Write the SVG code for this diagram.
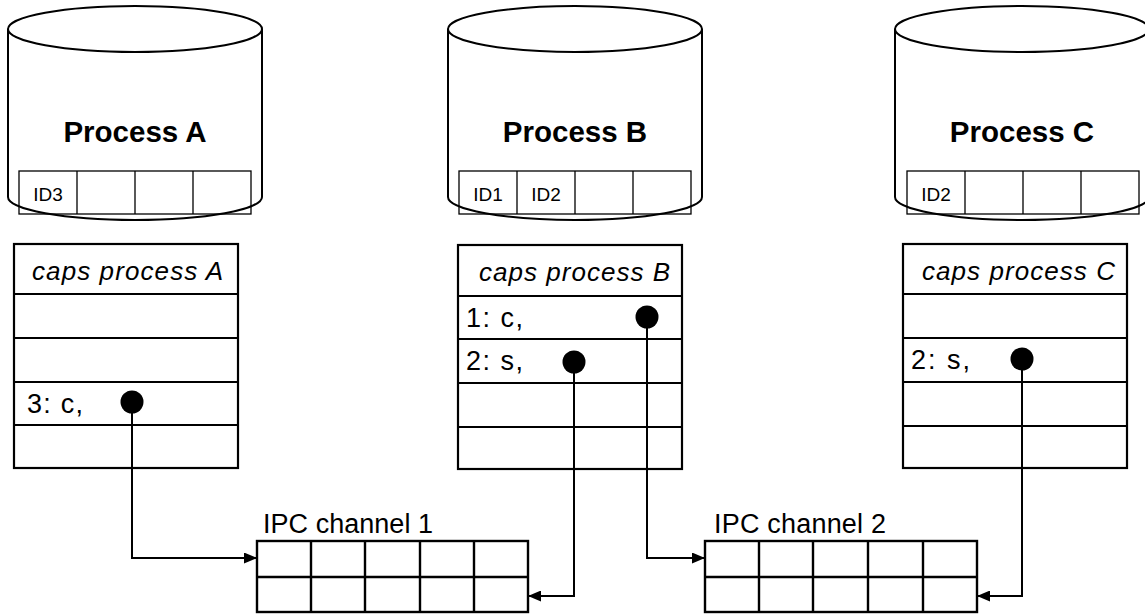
<svg xmlns="http://www.w3.org/2000/svg" width="1145" height="614" viewBox="0 0 1145 614">
  <defs>
    <style>
      text { font-family: "Liberation Sans", Arial, Helvetica, sans-serif; fill: #000; }
      .cyl { fill: #fff; stroke: #000; stroke-width: 2; }
      .idrow { fill: none; stroke: #000; stroke-width: 1.3; }
      .tbl { fill: #fff; stroke: #000; stroke-width: 2.2; }
      .chan { fill: #fff; stroke: #000; stroke-width: 2.4; }
      .title { font-size: 29.5px; font-weight: bold; text-anchor: middle; }
      .id { font-size: 19px; text-anchor: middle; }
      .hdr { font-size: 26px; font-style: italic; }
      .cap { font-size: 27px; }
      .lbl { font-size: 27px; }
      .wire { fill: none; stroke: #000; stroke-width: 2; marker-start: url(#dot); marker-end: url(#arrow); }
    </style>
    <marker id="arrow" markerUnits="userSpaceOnUse" markerWidth="13" markerHeight="11" refX="13" refY="5.5" orient="auto">
      <path d="M0,0 L13,5.5 L0,11 z" fill="#000"/>
    </marker>
    <marker id="dot" markerUnits="userSpaceOnUse" markerWidth="24" markerHeight="24" refX="12" refY="12" orient="auto">
      <circle cx="12" cy="12" r="11.5" fill="#000"/>
    </marker>
  </defs>

  <rect width="1145" height="614" fill="#fff"/>

  <!-- Process A -->
  <g id="process-a">
    <path class="cyl" d="M8,29 V197 A127,23 0 0 0 262,197 V29"/>
    <ellipse class="cyl" cx="135" cy="29" rx="127" ry="23"/>
    <text class="title" x="135" y="142">Process A</text>
    <rect class="idrow" x="19" y="171" width="232" height="43"/>
    <path class="idrow" d="M77,171 V214 M135,171 V214 M193,171 V214"/>
    <text class="id" x="48" y="201">ID3</text>
  </g>

  <!-- Process B -->
  <g id="process-b">
    <path class="cyl" d="M448,29 V197 A127,23 0 0 0 702,197 V29"/>
    <ellipse class="cyl" cx="575" cy="29" rx="127" ry="23"/>
    <text class="title" x="575" y="142">Process B</text>
    <rect class="idrow" x="459" y="171" width="232" height="43"/>
    <path class="idrow" d="M517,171 V214 M575,171 V214 M633,171 V214"/>
    <text class="id" x="488" y="201">ID1</text>
    <text class="id" x="546" y="201">ID2</text>
  </g>

  <!-- Process C -->
  <g id="process-c">
    <path class="cyl" d="M895,29 V197 A127,23 0 0 0 1149,197 V29"/>
    <ellipse class="cyl" cx="1022" cy="29" rx="127" ry="23"/>
    <text class="title" x="1022" y="142">Process C</text>
    <rect class="idrow" x="907" y="171" width="232" height="43"/>
    <path class="idrow" d="M965,171 V214 M1023,171 V214 M1081,171 V214"/>
    <text class="id" x="936" y="201">ID2</text>
  </g>

  <!-- Capability tables -->
  <g id="caps-a">
    <rect class="tbl" x="14" y="244" width="224" height="224"/>
    <path class="tbl" d="M14,294 H238 M14,338 H238 M14,382 H238 M14,425 H238"/>
    <text class="hdr" x="32" y="280" textLength="191" lengthAdjust="spacing">caps process A</text>
    <text class="cap" x="27" y="413" textLength="56" lengthAdjust="spacing">3: c,</text>
  </g>

  <g id="caps-b">
    <rect class="tbl" x="458" y="245" width="224" height="224"/>
    <path class="tbl" d="M458,296 H682 M458,339 H682 M458,383 H682 M458,427 H682"/>
    <text class="hdr" x="479" y="281" textLength="191" lengthAdjust="spacing">caps process B</text>
    <text class="cap" x="466" y="327" textLength="57" lengthAdjust="spacing">1: c,</text>
    <text class="cap" x="466" y="370" textLength="57" lengthAdjust="spacing">2: s,</text>
  </g>

  <g id="caps-c">
    <rect class="tbl" x="903" y="244" width="224" height="224"/>
    <path class="tbl" d="M903,294 H1127 M903,338 H1127 M903,382 H1127 M903,426 H1127"/>
    <text class="hdr" x="922" y="280" textLength="193" lengthAdjust="spacing">caps process C</text>
    <text class="cap" x="911" y="369" textLength="59" lengthAdjust="spacing">2: s,</text>
  </g>

  <!-- IPC channels -->
  <g id="ipc-channel-1">
    <text class="lbl" x="263" y="533" textLength="170" lengthAdjust="spacing">IPC channel 1</text>
    <rect class="chan" x="257" y="541" width="271" height="71"/>
    <path class="chan" d="M257,577 H528 M311,541 V612 M365,541 V612 M420,541 V612 M474,541 V612"/>
  </g>

  <g id="ipc-channel-2">
    <text class="lbl" x="714" y="533" textLength="172" lengthAdjust="spacing">IPC channel 2</text>
    <rect class="chan" x="705" y="541" width="272" height="71"/>
    <path class="chan" d="M705,577 H977 M759,541 V612 M813,541 V612 M868,541 V612 M923,541 V612"/>
  </g>

  <!-- Connectors: capability slot to channel end -->
  <g id="connectors">
    <path class="wire" d="M132,402 V558 H257"/>
    <path class="wire" d="M574,362 V596 H528"/>
    <path class="wire" d="M647,317 V558 H705"/>
    <path class="wire" d="M1022,359 V596 H977"/>
  </g>
</svg>
